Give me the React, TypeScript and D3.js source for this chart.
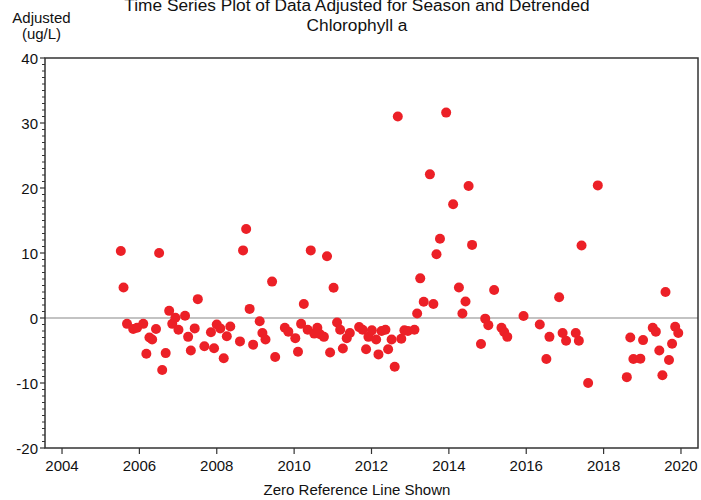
import { scaleLinear, range } from "d3";

// decimal year of each sample
const years = [
  2005.52, 2005.59, 2005.68, 2005.84, 2005.94, 2006.1, 2006.18, 2006.26, 2006.33, 2006.43,
  2006.51, 2006.59, 2006.68, 2006.77, 2006.85, 2006.93, 2007.01, 2007.18, 2007.26, 2007.33,
  2007.43, 2007.51, 2007.68, 2007.85, 2007.93, 2008.0, 2008.09, 2008.18, 2008.26, 2008.35,
  2008.6, 2008.68, 2008.76, 2008.85, 2008.94, 2009.11, 2009.18, 2009.26, 2009.43, 2009.51,
  2009.76, 2009.85, 2010.03, 2010.1, 2010.18, 2010.25, 2010.35, 2010.43, 2010.52, 2010.6,
  2010.67, 2010.77, 2010.85, 2010.93, 2011.02, 2011.11, 2011.19, 2011.26, 2011.36, 2011.44,
  2011.68, 2011.77, 2011.86, 2011.92, 2012.01, 2012.12, 2012.18, 2012.26, 2012.36, 2012.43,
  2012.52, 2012.6, 2012.68, 2012.77, 2012.85, 2012.94, 2013.11, 2013.18, 2013.26, 2013.35,
  2013.51, 2013.6, 2013.68, 2013.77, 2013.93, 2014.11, 2014.26, 2014.35, 2014.43, 2014.51,
  2014.6, 2014.83, 2014.94, 2015.02, 2015.17, 2015.36, 2015.43, 2015.51, 2015.93, 2016.35,
  2016.52, 2016.6, 2016.85, 2016.94, 2017.03, 2017.28, 2017.36, 2017.43, 2017.6, 2017.85,
  2018.6, 2018.69, 2018.77, 2018.95, 2019.02, 2019.27, 2019.35, 2019.44, 2019.52, 2019.6,
  2019.69, 2019.77, 2019.85, 2019.93,
];

// adjusted chlorophyll a (ug/L)
const adjusted = [
  10.3, 4.7, -0.9, -1.7, -1.5, -0.9, -5.5, -3.0, -3.3, -1.7,
  10.0, -8.0, -5.4, 1.1, -0.9, 0.05, -1.8, 0.35, -2.9, -5.0,
  -1.6, 2.9, -4.35, -2.2, -4.65, -1.0, -1.6, -6.2, -2.8, -1.3,
  -3.6, 10.4, 13.7, 1.4, -4.1, -0.5, -2.3, -3.3, 5.6, -6.0,
  -1.5, -2.1, -3.1, -5.2, -0.9, 2.15, -1.8, 10.4, -2.4, -1.5,
  -2.5, -2.9, 9.5, -5.3, 4.65, -0.7, -1.8, -4.7, -3.1, -2.3,
  -1.4, -1.8, -4.8, -2.9, -1.9, -3.3, -5.6, -2.0, -1.8, -4.8,
  -3.3, -7.5, 31.0, -3.2, -1.9, -2.0, -1.8, 0.7, 6.1, 2.5,
  22.1, 2.15, 9.8, 12.2, 31.6, 17.5, 4.7, 0.7, 2.55, 20.3,
  11.25, -4.0, -0.1, -1.1, 4.3, -1.5, -2.15, -2.9, 0.3, -1.0,
  -6.3, -2.9, 3.2, -2.3, -3.5, -2.3, -3.5, 11.15, -10.0, 20.4,
  -9.1, -3.0, -6.3, -6.25, -3.4, -1.5, -2.1, -5.0, -8.8, 4.0,
  -6.45, -3.95, -1.35, -2.3,
];

const yearTicks = [2004, 2006, 2008, 2010, 2012, 2014, 2016, 2018, 2020];
const valueTicks = [-20, -10, 0, 10, 20, 30, 40];

const W = 701;
const H = 500;
const FONT = "'Liberation Sans', Arial, sans-serif";

export default function App() {
  const left = 45, right = 698, top = 58, bottom = 448;
  const x = scaleLinear().domain([2003.56, 2020.44]).range([left, right]);
  const y = scaleLinear().domain([-20, 40]).range([bottom, top]);
  const minor = range(-20, 41, 1).filter((v) => v % 10 !== 0);

  return (
    <svg
      width={W}
      height={H}
      style={{ position: "absolute", left: 0, top: 0, background: "#fff" }}
      fontFamily={FONT}
    >
      {/* titles (first line is clipped at the top in the original too) */}
      <text x={357} y={11} textAnchor="middle" fontSize={17.3} fill="#111">
        Time Series Plot of Data Adjusted for Season and Detrended
      </text>
      <text x={357} y={31} textAnchor="middle" fontSize={17.3} fill="#111">
        Chlorophyll a
      </text>
      <text x={41.5} y={23} textAnchor="middle" fontSize={15} fill="#111">
        Adjusted
      </text>
      <text x={41.5} y={39} textAnchor="middle" fontSize={15} fill="#111">
        (ug/L)
      </text>

      {/* zero reference */}
      <line x1={left} x2={right} y1={y(0)} y2={y(0)} stroke="#888" strokeWidth={1.2} />

      {/* points */}
      {years.map((yr, i) => (
        <circle key={i} cx={x(yr)} cy={y(adjusted[i])} r={5} fill="#ec2027" />
      ))}

      {/* frame */}
      <rect
        x={left}
        y={top}
        width={right - left}
        height={bottom - top}
        fill="none"
        stroke="#333"
        strokeWidth={1.5}
      />

      {/* y axis */}
      {minor.map((v) => (
        <line key={v} x1={left - 3} x2={left} y1={y(v)} y2={y(v)} stroke="#333" strokeWidth={1} />
      ))}
      {valueTicks.map((v) => (
        <g key={v}>
          <line x1={left - 5} x2={left} y1={y(v)} y2={y(v)} stroke="#333" strokeWidth={1.2} />
          <text
            x={left - 7}
            y={y(v)}
            dy="0.42em"
            textAnchor="end"
            fontSize={15}
            fill="#111"
          >
            {v}
          </text>
        </g>
      ))}

      {/* x axis */}
      {yearTicks.map((t) => (
        <g key={t}>
          <line x1={x(t)} x2={x(t)} y1={bottom} y2={bottom + 6} stroke="#333" strokeWidth={1.2} />
          <text x={x(t)} y={bottom + 23} textAnchor="middle" fontSize={15} fill="#111">
            {t}
          </text>
        </g>
      ))}
      <text x={357} y={495} textAnchor="middle" fontSize={15} fill="#111">
        Zero Reference Line Shown
      </text>
    </svg>
  );
}
